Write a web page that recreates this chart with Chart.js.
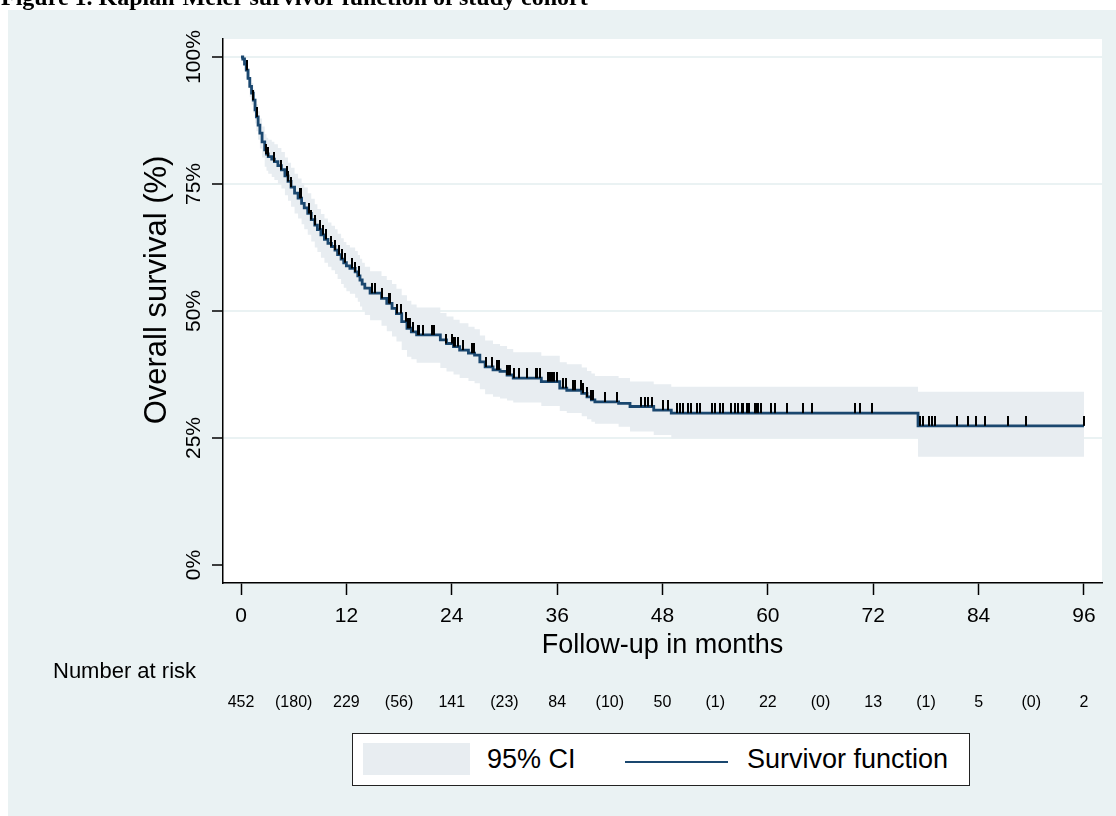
<!DOCTYPE html>
<html>
<head>
<meta charset="utf-8">
<script src="https://cdn.jsdelivr.net/npm/chart.js@4.4.1/dist/chart.umd.min.js"></script>
<style>
  body { margin: 0; background: #fff; }
  #wrap { position: relative; width: 1116px; height: 816px; overflow: hidden; font-family: "Liberation Sans", Arial, sans-serif; }
  #chart1 { position: absolute; left: 0; top: 0; }
  #title { position: absolute; left: 1px; top: -16.5px; font: bold 24px "Liberation Serif", "Times New Roman", serif; color: #000; white-space: nowrap; }
  #legend { position: absolute; left: 352px; top: 733px; width: 618px; height: 53px; box-sizing: border-box; border: 1.5px solid #222; background: #fff; }
  #legend .swatch { position: absolute; left: 10px; top: 9px; width: 107px; height: 32px; background: rgb(232,237,241); }
  #legend .line { position: absolute; left: 272px; top: 27px; width: 103px; height: 2px; background: #1a476f; }
  #legend span { position: absolute; top: 9px; font-size: 27px; line-height: 32px; color: #000; }
</style>
</head>
<body>
<div id="wrap">
  <canvas id="chart1" width="1116" height="816"></canvas>
  <div id="title">Figure 1. Kaplan-Meier survivor function of study cohort</div>
  <div id="legend">
    <div class="swatch"></div><span style="left:134px">95% CI</span>
    <div class="line"></div><span style="left:394px">Survivor function</span>
  </div>
</div>
<script>
// survival estimates (months, %)
var kmMonths = [0, 0.2, 0.4, 0.6, 0.8, 1.0, 1.2, 1.4, 1.6, 1.75, 1.95, 2.15, 2.4, 2.7, 2.9, 3.1, 3.5, 3.8, 4.2, 4.6,
    5.0, 5.35, 5.7, 6.1, 6.5, 6.9, 7.2, 7.6, 8.0, 8.4, 8.7, 9.1, 9.5, 9.9, 10.3, 10.7, 11.0, 11.4, 11.7, 12.0,
    12.4, 13.0, 13.3, 13.55, 13.8, 14.1, 14.7, 16.0, 16.6, 17.2, 17.7, 18.3, 18.9, 19.4, 20.0, 22.7, 23.4, 24.2, 24.9, 25.9,
    26.6, 27.2, 27.8, 28.7, 29.5, 30.3, 31.0, 34.2, 36.3, 37.1, 38.8, 39.4, 39.9, 40.3, 43.0, 44.3, 47.0, 49.0, 77.1, 96];
var kmSurvival = [100, 99.6, 98.6, 97.4, 95.8, 94.2, 92.9, 91.5, 89.6, 88.2, 86.6, 85.0, 83.3, 81.7, 80.9, 80.4, 79.9, 79.4, 78.6, 77.8,
    76.6, 75.5, 74.4, 73.2, 72.2, 71.2, 70.3, 69.2, 68.0, 66.9, 66.0, 65.0, 64.1, 63.3, 62.7, 62.0, 61.1, 60.2, 59.5, 58.9,
    58.4, 57.7, 56.9, 56.1, 55.3, 54.5, 53.5, 52.5, 51.5, 50.5, 49.5, 47.9, 46.6, 45.9, 45.3, 44.3, 43.6, 43.0, 42.3, 41.7,
    41.3, 40.0, 39.0, 38.4, 38.1, 37.4, 36.8, 36.1, 34.8, 34.4, 33.8, 33.1, 32.5, 32.1, 31.8, 31.2, 30.5, 29.9, 27.4, 27.4];
var ciUpper = [100, 100, 99.5, 98.7, 97.4, 96.0, 94.9, 93.6, 91.9, 90.7, 89.3, 87.9, 86.3, 84.8, 84.1, 83.7, 83.3, 82.8, 82.1, 81.3,
    80.2, 79.2, 78.2, 77.0, 76.1, 75.2, 74.3, 73.2, 72.1, 71.0, 70.1, 69.1, 68.2, 67.4, 66.8, 66.1, 65.2, 64.3, 63.6, 63.0,
    62.5, 61.8, 61.0, 60.3, 59.5, 58.7, 57.8, 56.9, 56.1, 55.3, 54.4, 53.1, 52.0, 51.3, 50.7, 49.6, 48.9, 48.3, 47.6, 46.9,
    46.4, 45.2, 44.2, 43.5, 43.1, 42.5, 41.9, 41.2, 39.9, 39.5, 38.9, 38.2, 37.7, 37.2, 36.8, 36.1, 35.6, 35.1, 34.1, 34.1];
var ciLower = [100, 98.9, 97.4, 95.8, 94.0, 92.1, 90.6, 89.0, 86.9, 85.4, 83.7, 82.0, 80.2, 78.4, 77.6, 77.0, 76.4, 75.8, 75.0, 74.1,
    72.8, 71.7, 70.5, 69.2, 68.2, 67.1, 66.1, 65.0, 63.7, 62.5, 61.6, 60.5, 59.5, 58.7, 58.0, 57.3, 56.3, 55.3, 54.6, 53.9,
    53.4, 52.6, 51.8, 50.9, 50.1, 49.2, 48.2, 47.1, 46.0, 45.0, 44.0, 42.3, 41.0, 40.5, 39.8, 38.8, 38.1, 37.5, 36.8, 36.2,
    35.8, 34.6, 33.6, 33.1, 32.8, 32.4, 32.0, 31.3, 30.3, 29.9, 29.3, 28.7, 28.2, 27.8, 27.2, 26.3, 25.6, 24.9, 21.3, 21.3];
// censoring times (months)
var censorMonths = [0.7, 1.4, 1.8, 2.9, 3.1, 3.8, 4.6, 5.2, 5.35, 5.7, 6.7, 6.8, 7.8, 8.0, 8.4, 9.0, 9.3, 9.7, 10.3, 10.7,
    11.2, 11.5, 11.8, 12.6, 13.0, 13.4, 14.9, 15.3, 16.1, 16.8, 17.0, 17.8, 18.2, 18.8, 19.0, 19.2, 19.6, 20.1, 20.3, 20.7,
    21.7, 22.0, 23.4, 24.0, 24.2, 24.4, 24.7, 25.3, 26.3, 26.5, 27.9, 28.6, 29.2, 29.4, 30.3, 30.4, 30.6, 31.1, 31.7, 32.6,
    33.6, 33.7, 34.1, 35.0, 35.2, 35.4, 35.6, 36.0, 36.7, 37.0, 37.8, 38.0, 38.7, 39.0, 39.4, 39.9, 40.1, 41.5, 42.8, 45.6,
    46.0, 46.4, 46.8, 48.1, 48.6, 49.7, 50.0, 50.3, 50.9, 51.2, 51.9, 52.3, 53.6, 54.0, 54.6, 54.9, 55.8, 56.2, 56.6, 57.0,
    57.2, 57.6, 57.9, 58.5, 58.7, 58.9, 59.2, 60.3, 60.8, 62.2, 64.0, 65.0, 69.9, 70.5, 71.9, 77.3, 77.7, 78.3, 78.7, 79.0,
    81.5, 82.8, 83.7, 84.7, 87.3, 89.4, 96];

var xTickValues = [0, 12, 24, 36, 48, 60, 72, 84, 96];
var yTickValues = [0, 25, 50, 75, 100];
var riskMonths = [0, 6, 12, 18, 24, 30, 36, 42, 48, 54, 60, 66, 72, 78, 84, 90, 96];
var riskLabels = ["452", "(180)", "229", "(56)", "141", "(23)", "84", "(10)", "50", "(1)", "22", "(0)", "13", "(1)", "5", "(0)", "2"];

var fontFamily = '"Liberation Sans", Arial, sans-serif';
var bgColour = "rgb(234,242,243)";
var bandColour = "rgb(232,237,241)";
var lineColour = "#1a476f";

function toPoints(xs, ys) {
    return xs.map(function (x, i) { return { x: x, y: ys[i] }; });
}

function survivalAt(t) {
    var s = kmSurvival[0];
    for (var i = 0; i < kmMonths.length; i++) {
        if (kmMonths[i] <= t) s = kmSurvival[i];
    }
    return s;
}

// censor mark: vertical tick sitting on top of the curve
function makeTick() {
    var c = document.createElement("canvas");
    c.width = 2;
    c.height = 20;
    var g = c.getContext("2d");
    g.fillStyle = "#000";
    g.fillRect(0, 0, 2, 10);
    return c;
}

var backgroundPlugin = {
    id: "background",
    beforeDraw: function (chart) {
        var ctx = chart.ctx, a = chart.chartArea;
        ctx.save();
        ctx.fillStyle = bgColour;
        ctx.fillRect(8, 10, chart.width - 8, chart.height - 10);
        ctx.fillStyle = "#fff";
        ctx.fillRect(a.left, a.top, a.right - a.left, a.bottom - a.top);
        ctx.restore();
    }
};

var labelsPlugin = {
    id: "labels",
    afterDraw: function (chart) {
        var ctx = chart.ctx, a = chart.chartArea;
        var xs = chart.scales.x, ys = chart.scales.y;
        ctx.save();
        ctx.fillStyle = "#000";
        ctx.textAlign = "center";
        ctx.textBaseline = "middle";

        // rotated y tick labels
        ctx.font = "21px " + fontFamily;
        yTickValues.forEach(function (v) {
            ctx.save();
            ctx.translate(a.left - 29, ys.getPixelForValue(v));
            ctx.rotate(-Math.PI / 2);
            ctx.fillText(v + "%", 0, 0);
            ctx.restore();
        });

        // y title
        ctx.font = "31px " + fontFamily;
        ctx.save();
        ctx.translate(157, 290);
        ctx.rotate(-Math.PI / 2);
        ctx.fillText("Overall survival (%)", 0, 0);
        ctx.restore();

        // number at risk table
        ctx.textAlign = "left";
        ctx.font = "22px " + fontFamily;
        ctx.fillText("Number at risk", 53, 672);
        ctx.textAlign = "center";
        ctx.font = "16px " + fontFamily;
        riskMonths.forEach(function (m, i) {
            ctx.fillText(riskLabels[i], xs.getPixelForValue(m), 703);
        });
        ctx.restore();
    }
};

var ctx = document.getElementById("chart1");
var chart = new Chart(ctx, {
    type: "line",
    data: {
        datasets: [
            {
                label: "95% CI",
                data: toPoints(kmMonths, ciUpper),
                stepped: true,
                borderWidth: 0,
                borderColor: "rgba(0,0,0,0)",
                backgroundColor: bandColour,
                pointRadius: 0,
                fill: "+1",
                order: 3
            },
            {
                label: "95% CI lower",
                data: toPoints(kmMonths, ciLower),
                stepped: true,
                borderWidth: 0,
                borderColor: "rgba(0,0,0,0)",
                pointRadius: 0,
                fill: false,
                order: 3
            },
            {
                label: "Survivor function",
                data: toPoints(kmMonths, kmSurvival),
                stepped: true,
                borderColor: lineColour,
                borderWidth: 2.8,
                pointRadius: 0,
                fill: false,
                order: 2
            },
            {
                type: "scatter",
                label: "Censored",
                data: censorMonths.map(function (m) { return { x: m, y: survivalAt(m) }; }),
                pointStyle: makeTick(),
                pointRadius: 5,
                showLine: false,
                order: 1
            }
        ]
    },
    options: {
        responsive: false,
        animation: false,
        devicePixelRatio: 1,
        layout: { padding: { left: 0, top: 39, right: 14, bottom: 154 } },
        scales: {
            x: {
                type: "linear",
                min: -2.05,
                max: 98.05,
                afterBuildTicks: function (s) { s.ticks = xTickValues.map(function (v) { return { value: v }; }); },
                afterFit: function (s) { s.height = 79; },
                grid: { drawOnChartArea: false, drawTicks: true, tickLength: 12, tickColor: "#000", tickWidth: 1.5 },
                border: { display: true, color: "#000", width: 1.5 },
                ticks: { font: { family: fontFamily, size: 21 }, color: "#000", padding: 9, maxRotation: 0, autoSkip: false },
                title: { display: true, text: "Follow-up in months", color: "#000", font: { family: fontFamily, size: 27 }, padding: { top: 0, bottom: 0 } }
            },
            y: {
                type: "linear",
                min: -3.54,
                max: 103.54,
                afterBuildTicks: function (s) { s.ticks = yTickValues.map(function (v) { return { value: v }; }); },
                afterFit: function (s) { s.width = 223; },
                grid: {
                    color: function (c) { return c.tick && c.tick.value > 0 ? bgColour : "rgba(0,0,0,0)"; },
                    lineWidth: 2,
                    drawTicks: true,
                    tickLength: 11,
                    tickColor: "#000",
                    tickWidth: 1.5
                },
                border: { display: true, color: "#000", width: 1.5 },
                ticks: { display: false }
            }
        },
        plugins: {
            legend: { display: false },
            tooltip: { enabled: false }
        }
    },
    plugins: [backgroundPlugin, labelsPlugin]
});
</script>
</body>
</html>
